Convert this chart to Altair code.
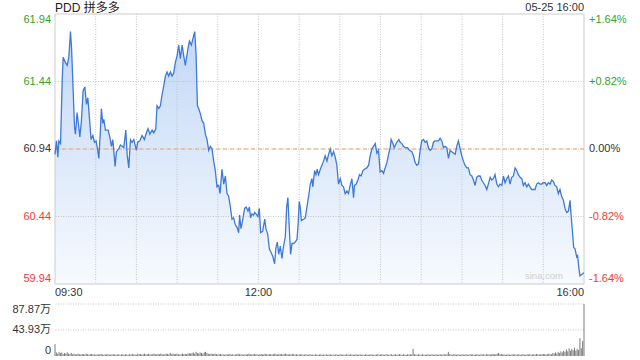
import altair as alt
import pandas as pd

FONT = "Liberation Sans, Arial, Noto Sans CJK SC"

title_text = "PDD 拼多多"
date_text = "05-25 16:00"
watermark = "sina.com"
prev_close = 60.94
price_ticks = [61.94, 61.44, 60.94, 60.44, 59.94]
price_labels = ["61.94", "61.44", "60.94", "60.44", "59.94"]
pct_labels = ["+1.64%", "+0.82%", "0.00%", "-0.82%", "-1.64%"]
tick_colors = ["#2fa52f", "#2fa52f", "#333333", "#f03a3a", "#f03a3a"]
vol_ticks = [87.87, 43.93, 0]
vol_labels = ["87.87万", "43.93万", "0"]
time_ticks = [0, 150, 390]
time_labels = ["09:30", "12:00", "16:00"]
grid_minutes = [30, 60, 90, 120, 150, 180, 210, 240, 270, 300, 330, 360]

# minutes since 09:30 and price
minutes = [
    0, 1.1, 2.1, 2.8, 4.1, 5.3, 6.0, 7.7, 9.0, 10.2, 11.4, 12.2, 13.1, 14.4, 15.1, 16.3, 17.6, 18.3, 19.5, 20.7,
    22.0, 23.2, 24.2, 25.7, 26.6, 27.9, 29.1, 30.3, 31.5, 32.3, 33.5, 34.2, 35.2, 36.0, 37.2, 39.2, 40.4, 41.6, 42.6, 43.6,
    44.3, 45.3, 47.0, 48.2, 49.5, 50.7, 52.2, 53.2, 54.4, 55.6, 56.8, 58.1, 59.3, 60.0, 61.0, 62.5, 64.2, 65.9, 67.4, 68.6,
    69.9, 71.6, 72.8, 74.3, 75.2, 76.5, 77.7, 78.9, 80.2, 81.4, 82.6, 83.8, 85.1, 86.3, 87.5, 88.7, 90.0, 91.2, 92.4, 93.7,
    94.9,
    96.1, 98.1, 99.1, 100.5, 101.5, 103.0, 104.0, 105.0, 105.9, 107.2, 108.4, 109.6, 110.9, 112.1, 113.3, 114.5, 115.8, 117.0, 118.2, 119.4,
    120.7, 121.7, 123.1, 124.4, 125.6, 126.8, 128.0, 129.3, 130.5, 131.7, 132.9, 134.2, 135.4, 136.1, 137.1, 138.3, 139.8, 141.0, 142.3, 143.3,
    144.2, 145.2, 146.4, 147.2, 148.2, 149.6, 150.6, 151.6, 153.1, 154.6, 155.5, 156.8, 158.0, 159.5, 160.7, 161.9, 162.9, 163.9, 164.9, 166.1,
    167.3, 168.5, 169.8, 170.8, 171.7, 172.7, 173.7, 174.7, 175.9, 177.1, 178.4, 179.1, 180.1, 180.8, 181.6, 183.3, 184.5, 185.7, 187.0, 188.2,
    189.4, 190.1, 191.4, 192.4, 193.3, 194.3,
    195.6, 196.8, 198.0, 199.2, 200.5, 201.7, 202.9, 204.1, 205.4, 206.6, 207.8, 209.0, 210.3, 211.5, 212.7, 213.9, 215.2, 216.4, 217.6, 218.9,
    220.1, 220.8, 222.1, 223.3, 224.5, 225.7, 227.0, 228.2, 229.9, 231.2, 232.4, 233.6, 234.8, 236.1, 237.3, 238.5, 239.7, 241.0, 242.2, 243.4,
    244.7, 245.9, 247.1, 247.8, 249.1, 250.1, 251.0, 252.0, 253.5, 254.5, 255.7, 256.9, 258.2, 259.9, 261.3, 263.1, 264.3, 265.5, 266.7, 268.0,
    269.2, 270.4, 271.7, 272.9, 274.1, 275.3, 276.6, 277.8, 279.0, 280.3, 281.5, 282.7, 283.9, 285.2, 286.4, 287.6, 288.8, 290.1, 291.3, 292.5,
    293.8,
    295.0, 296.2, 297.4, 298.7, 299.9, 301.1, 302.3, 303.6, 304.8, 306.0, 307.3, 308.5, 309.7, 310.9, 312.2, 313.4, 314.6, 315.8, 317.1, 318.3,
    319.5, 320.8, 322.0, 323.2, 324.4, 325.7, 326.9, 328.1, 329.4, 330.6, 331.8, 333.0, 334.3, 335.5, 336.7, 338.0, 339.2, 340.4, 341.6, 342.9,
    344.1, 345.3, 346.5, 347.8, 349.0, 350.2, 351.4, 352.7, 353.9, 355.1, 356.4, 357.6, 358.8, 360.0, 361.3, 362.5, 363.7, 365.0, 366.2, 367.4,
    368.6, 369.9, 371.1, 372.3, 373.5, 374.8, 376.0, 377.2, 378.5, 379.7, 380.4, 381.4, 382.4, 383.4, 384.6, 385.3, 386.3, 387.0, 388.3, 389.5,
    390,
]
prices = [
    60.90, 61.00, 60.88, 61.00, 60.98, 61.45, 61.62, 61.58, 61.56, 61.62, 61.81, 61.69, 61.45, 61.10, 61.05, 61.21, 61.10, 61.03, 61.15, 61.37,
    61.40, 61.27, 61.32, 61.13, 61.01, 61.04, 60.99, 61.00, 60.93, 60.87, 61.08, 61.24, 61.13, 61.16, 61.08, 61.08, 61.03, 60.96, 61.01, 60.90,
    60.81, 60.92, 60.94, 60.97, 60.96, 60.95, 61.08, 60.90, 60.80, 61.01, 60.99, 61.01, 60.96, 60.93, 60.99, 61.00, 61.04, 61.01, 61.06, 61.09,
    61.05, 61.08, 61.06, 61.09, 61.26, 61.24, 61.26, 61.34, 61.41, 61.48, 61.51, 61.48, 61.51, 61.48, 61.50, 61.58, 61.63, 61.71, 61.61, 61.71,
    61.63,
    61.56, 61.69, 61.74, 61.71, 61.75, 61.81, 61.64, 61.26, 61.24, 61.20, 61.15, 61.13, 61.05, 61.01, 60.93, 60.96, 60.94, 60.85, 60.78, 60.66,
    60.67, 60.61, 60.79, 60.68, 60.74, 60.61, 60.59, 60.51, 60.42, 60.43, 60.38, 60.36, 60.32, 60.45, 60.35, 60.41, 60.50, 60.51, 60.48, 60.51,
    60.43, 60.46, 60.45, 60.47, 60.46, 60.44, 60.50, 60.32, 60.33, 60.42, 60.35, 60.31, 60.20, 60.17, 60.14, 60.09, 60.21, 60.25, 60.16, 60.22,
    60.13, 60.22, 60.29, 60.51, 60.58, 60.36, 60.16, 60.24, 60.24, 60.25, 60.27, 60.36, 60.55, 60.51, 60.41, 60.42, 60.43, 60.51, 60.59, 60.68,
    60.72, 60.66, 60.78, 60.75, 60.79, 60.75,
    60.79, 60.82, 60.85, 60.89, 60.85, 60.90, 60.94, 60.89, 60.92, 60.88, 60.82, 60.68, 60.72, 60.67, 60.66, 60.61, 60.63, 60.61, 60.67, 60.72,
    60.58, 60.67, 60.68, 60.71, 60.75, 60.74, 60.78, 60.79, 60.80, 60.82, 60.89, 60.94, 60.96, 60.98, 60.91, 60.93, 60.77, 60.78, 60.76, 60.80,
    60.84, 60.90, 60.95, 61.01, 60.98, 60.95, 60.97, 60.99, 61.01, 60.99, 60.98, 60.96, 60.95, 60.95, 60.93, 60.92, 60.89, 60.84, 60.82, 60.83,
    60.93, 61.00, 61.01, 60.99, 61.00, 60.95, 60.93, 60.94, 60.99, 61.00, 61.00, 61.00, 61.02, 61.00, 60.95, 60.96, 60.95, 60.87, 60.93, 60.92,
    60.91,
    60.90, 60.96, 61.00, 60.94, 60.89, 60.85, 60.82, 60.80, 60.80, 60.75, 60.74, 60.71, 60.67, 60.73, 60.74, 60.74, 60.71, 60.69, 60.67, 60.64,
    60.68, 60.73, 60.71, 60.72, 60.75, 60.68, 60.66, 60.68, 60.67, 60.74, 60.69, 60.72, 60.74, 60.68, 60.73, 60.74, 60.80, 60.78, 60.75, 60.73,
    60.72, 60.67, 60.69, 60.66, 60.68, 60.66, 60.64, 60.64, 60.64, 60.68, 60.69, 60.68, 60.68, 60.69, 60.69, 60.67, 60.69, 60.68, 60.71, 60.70,
    60.67, 60.66, 60.61, 60.64, 60.59, 60.56, 60.50, 60.47, 60.48, 60.56, 60.46, 60.34, 60.21, 60.20, 60.14, 60.15, 60.05, 60.00, 60.01, 60.02,
    60.02,
]

# per-minute volume in 万 shares, 09:30 .. 16:00
volumes = [
    20,
    6, 4, 7, 5, 6, 3, 5, 4, 6, 4, 3, 5, 3, 4, 2.5, 3, 4, 3, 2.5, 3.5,
    3, 2.5, 4, 3, 2.5, 3, 3.5, 2.5, 3, 2, 3, 2.5, 3, 3.5, 2.5, 2, 3, 2.5, 3, 2.5,
    2, 3, 2.5, 3, 2, 2.5, 3, 2, 2.5, 3, 2, 3, 2.5, 2, 3, 2.5, 3.5, 2.5, 3, 2,
    4, 3, 3.5, 2.5, 3, 4, 2.5, 3, 3.5, 3, 2.5, 3, 4, 3, 2.5, 3.5, 3, 4, 3, 2.5,
    3, 4, 3.5, 3, 5, 3, 4, 3, 3.5, 4, 3, 2.5, 3, 4, 3, 3.5, 3, 4, 5, 4,
    5, 6, 4, 7, 5, 4, 6, 5, 4, 6, 7, 5, 4, 3, 4, 3.5, 3, 4, 3, 2.5,
    3, 3.5, 2.5, 3, 2, 3, 2.5, 3, 3.5, 2.5, 3, 2, 2.5, 3, 4, 3, 2.5, 3, 2, 3,
    2.5, 3, 4, 3, 2.5, 3, 3.5, 2.5, 3, 2, 3, 3.5, 2.5, 3, 4, 3, 2.5, 3.5, 3, 2.5,
    3, 4, 3, 2.5, 3, 3.5, 3, 2.5, 3, 4, 3, 2.5, 3, 2.5, 3.5, 3, 2.5, 3, 2, 3,
    2.5, 3, 2, 2.5, 3, 2, 2.5, 3, 2, 2.5, 2, 3, 2.5, 2, 2.5, 3, 2, 2.5, 2, 3,
    2, 2.5, 3, 2, 2.5, 2, 3, 2.5, 2, 2.5, 3, 2, 2.5, 2, 3, 2.5, 2, 3, 2.5, 2,
    2.5, 3, 2, 2.5, 3, 2, 2.5, 2, 3, 2.5, 2, 2.5, 3, 2, 2.5, 2, 2.5, 3, 2, 2.5,
    3, 2.5, 2, 3, 2.5, 2, 2.5, 3, 2, 2.5, 3, 2, 2.5, 3, 2.5, 2, 3, 2.5, 2, 3,
    2.5, 3, 2.5, 12, 3, 2.5, 2, 3, 2.5, 2, 3, 2.5, 2, 2.5, 3, 2, 2.5, 3, 2, 2.5,
    3, 2, 2.5, 3, 2, 2.5, 3, 2.5, 3, 7, 3, 2.5, 2, 3, 2.5, 2, 3, 2.5, 2, 3,
    2.5, 2, 3, 2.5, 2, 3, 2.5, 3, 2, 2.5, 3, 2.5, 2, 3, 2.5, 3, 2, 3.5, 2.5, 3,
    2.5, 3, 3.5, 2.5, 3, 4, 5, 3, 3.5, 2.5, 3, 2, 2.5, 3, 2.5, 2, 3, 2.5, 3, 2,
    2.5, 3, 2, 2.5, 3, 2.5, 2, 3, 2.5, 3, 2, 2.5, 3, 2.5, 3.5, 2.5, 3, 2.5, 3, 3.5,
    3, 2.5, 3, 4, 3,
    3, 5, 4, 6, 4, 7, 5, 8, 6, 9, 7, 11, 8, 13, 9, 12, 10, 14, 9, 12, 10, 30, 13, 25, 87.87,
]

W, H = 529, 342
PRICE_H = 270
VOL_TOP = 290

price_df = pd.DataFrame({"m": minutes, "p": prices})
vol_df = pd.DataFrame({"m": list(range(len(volumes))), "v": volumes})

xscale = alt.Scale(domain=[0, 390], nice=False, zero=False)
pscale = alt.Scale(domain=[59.94, 61.94], range=[PRICE_H, 0], nice=False, zero=False)
vscale = alt.Scale(domain=[0, 87.87], range=[H, VOL_TOP], nice=False, zero=False)


def X(field):
    return alt.X(field, type="quantitative", scale=xscale, axis=None)


def PY(field):
    return alt.Y(field, type="quantitative", scale=pscale, axis=None)


def VY(field):
    return alt.Y(field, type="quantitative", scale=vscale, axis=None)


gradient = alt.Gradient(
    gradient="linear",
    stops=[alt.GradientStop(color="#c2d8f6", offset=0), alt.GradientStop(color="#f7fafe", offset=1)],
    x1=1, x2=1, y1=0, y2=1,
)

area = alt.Chart(price_df).mark_area(color=gradient, opacity=1).encode(
    x=X("m"), y=PY("p"), y2=alt.Y2(datum=59.94)
)

vgrid = alt.Chart(pd.DataFrame({"m": grid_minutes})).mark_rule(
    color="#c4c4c4", strokeDash=[1, 1.5], strokeWidth=1
).encode(x=X("m"), y=alt.Y(datum=61.94, type="quantitative", scale=pscale, axis=None), y2=alt.Y2(datum=59.94))

hgrid = alt.Chart(pd.DataFrame({"p": [61.44, 60.94, 60.44]})).mark_rule(
    color="#c4c4c4", strokeDash=[1, 1.5], strokeWidth=1
).encode(y=PY("p"))

frame_h = alt.Chart(pd.DataFrame({"p": [61.94, 59.94]})).mark_rule(color="#cccccc", strokeWidth=1).encode(y=PY("p"))
frame_v = alt.Chart(pd.DataFrame({"m": [0, 390]})).mark_rule(color="#cccccc", strokeWidth=1).encode(
    x=X("m"), y=alt.Y(datum=61.94, type="quantitative", scale=pscale, axis=None), y2=alt.Y2(datum=59.94)
)

prev_line = alt.Chart(pd.DataFrame({"p": [prev_close]})).mark_rule(
    color="#f2a272", strokeDash=[4, 3], strokeWidth=1
).encode(y=PY("p"))

line = alt.Chart(price_df).mark_line(color="#3f79d6", strokeWidth=1.3).encode(x=X("m"), y=PY("p"))

vgrid2 = alt.Chart(pd.DataFrame({"v": [87.87, 43.93]})).mark_rule(
    color="#c4c4c4", strokeDash=[1, 1.5], strokeWidth=1
).encode(y=VY("v"))

bars = alt.Chart(vol_df).mark_rule(color="#7a7a7a", strokeWidth=1).encode(
    x=X("m"), y=VY("v"), y2=alt.Y2(datum=0)
)

layers = [area, vgrid, hgrid, frame_h, frame_v, prev_line, line, vgrid2, bars]

n = len(price_ticks)
for i in range(n):
    base = "top" if i == 0 else ("bottom" if i == n - 1 else "middle")
    d = pd.DataFrame({"p": [price_ticks[i]], "a": [price_labels[i]], "b": [pct_labels[i]]})
    layers.append(alt.Chart(d).mark_text(
        align="right", baseline=base, font=FONT, fontSize=11, color=tick_colors[i], dx=-4
    ).encode(x=alt.value(0), y=PY("p"), text="a:N"))
    layers.append(alt.Chart(d).mark_text(
        align="left", baseline=base, font=FONT, fontSize=11, color=tick_colors[i], dx=5
    ).encode(x=alt.value(W), y=PY("p"), text="b:N"))

nv = len(vol_ticks)
for i in range(nv):
    base = "top" if i == 0 else ("bottom" if i == nv - 1 else "middle")
    d = pd.DataFrame({"v": [vol_ticks[i]], "a": [vol_labels[i]]})
    layers.append(alt.Chart(d).mark_text(
        align="right", baseline=base, font=FONT, fontSize=11, color="#333333", dx=-4
    ).encode(x=alt.value(0), y=VY("v"), text="a:N"))

aligns = ["left", "center", "right"]
for i in range(len(time_ticks)):
    d = pd.DataFrame({"m": [time_ticks[i]], "a": [time_labels[i]]})
    layers.append(alt.Chart(d).mark_text(
        align=aligns[i], baseline="middle", font=FONT, fontSize=11, color="#333333"
    ).encode(x=X("m"), y=alt.value(PRICE_H + 9), text="a:N"))

title_df = pd.DataFrame({"a": [title_text], "b": [date_text], "w": [watermark]})
layers.append(alt.Chart(title_df).mark_text(
    align="left", baseline="middle", font=FONT, fontSize=12, color="#222222"
).encode(x=alt.value(0), y=alt.value(-6), text="a:N"))
layers.append(alt.Chart(title_df).mark_text(
    align="right", baseline="middle", font=FONT, fontSize=11, color="#333333"
).encode(x=alt.value(W), y=alt.value(-6), text="b:N"))
layers.append(alt.Chart(title_df).mark_text(
    align="right", baseline="middle", font=FONT, fontSize=9.5, color="#cfcfcf"
).encode(x=alt.value(W - 21), y=alt.value(PRICE_H - 8), text="w:N"))

chart = alt.layer(*layers).resolve_scale(y="independent").properties(
    width=W, height=H,
    padding={"left": 55, "top": 14, "right": 56, "bottom": 4},
    autosize=alt.AutoSizeParams(type="none"),
    background="white",
).configure_view(stroke=None)

chart.save("out.html", embed_options={"renderer": "svg", "actions": False})
